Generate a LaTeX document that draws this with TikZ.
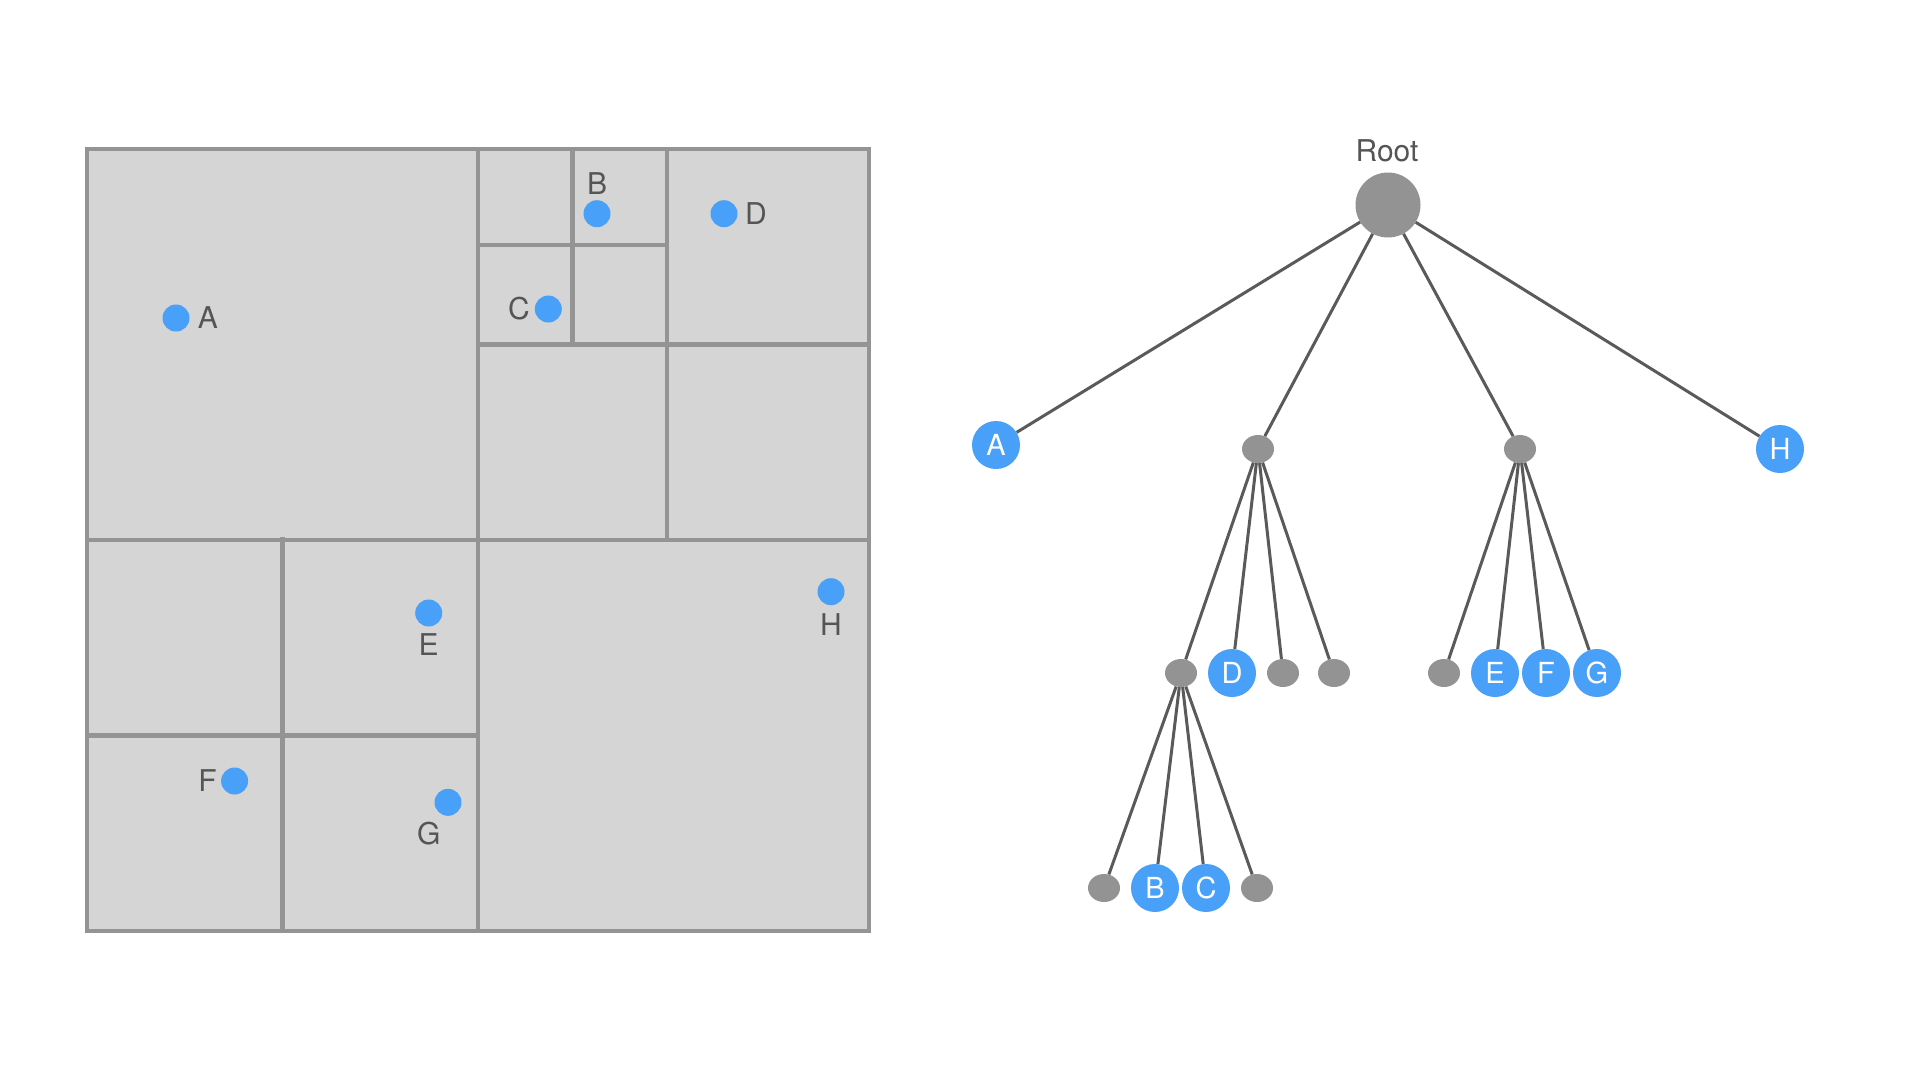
\documentclass[tikz,border=0pt]{standalone}
\usepackage{fontspec}
\setmainfont{TeX Gyre Heros}
\usepackage{tikz}
\usetikzlibrary{shapes.geometric}

\definecolor{cellgray}{HTML}{D5D5D5}
\definecolor{linegray}{HTML}{949494}
\definecolor{nodegray}{HTML}{939393}
\definecolor{dotblue}{HTML}{48A0F8}
\definecolor{textgray}{HTML}{555555}
\definecolor{edgegray}{HTML}{5A5A5A}

\begin{document}
\begin{tikzpicture}[x=1pt, y=-1pt,
		cell_style/.style={draw=linegray,line width=4.5pt},
		point_style/.style={circle,fill=dotblue,minimum size=27pt,inner sep=0pt},
		label_style/.style={text=textgray,inner sep=0pt,font=\fontsize{30}{34}\selectfont},
		node_style/.style={ellipse,fill=nodegray,minimum width=32pt,minimum height=28pt,inner sep=0pt},
		root_style/.style={circle,fill=nodegray,minimum size=65pt,inner sep=0pt},
		leaf_style/.style={circle,fill=dotblue,minimum size=48pt,inner sep=0pt,text=white,font=\fontsize{29}{32}\selectfont},
		edge_style/.style={draw=edgegray,line width=3pt}]
		
		\useasboundingbox (0,0) rectangle (1920,1080);
		
		% quadtree
		\fill[cellgray] (87,149) rectangle (869,931);
		\draw[cell_style] (87,540) -- (869,540);
		\draw[cell_style] (478,149) -- (478,931);
		\draw[cell_style] (667,149) -- (667,540);
		\draw[cell_style] (478,344.7) -- (869,344.7);
		\draw[cell_style] (572.7,149) -- (572.7,347);
		\draw[cell_style] (478,245) -- (667,245);
		\draw[cell_style] (282.5,537) -- (282.5,931);
		\draw[cell_style] (87,735.5) -- (478,735.5);
		\draw[cell_style] (87,149) rectangle (869,931);
		
		\node[point_style] (pA) at (176,318) {};
		\node[point_style] (pB) at (597,213.7) {};
		\node[point_style] (pC) at (548.3,309) {};
		\node[point_style] (pD) at (724,213.7) {};
		\node[point_style] (pE) at (428.7,613) {};
		\node[point_style] (pF) at (234.6,781) {};
		\node[point_style] (pG) at (448,802.3) {};
		\node[point_style] (pH) at (831,591.7) {};
		
		\node[label_style] (lA) at (208,318) {A};
		\node[label_style] (lB) at (597,183.3) {B};
		\node[label_style] (lC) at (519,309) {C};
		\node[label_style] (lD) at (756,214) {D};
		\node[label_style] (lE) at (428.7,645) {E};
		\node[label_style] (lF) at (207.5,781) {F};
		\node[label_style] (lG) at (428.7,834) {G};
		\node[label_style] (lH) at (831,624.3) {H};
		
		% tree
		\node[label_style] (rootlabel) at (1387,151) {Root};
		\node[root_style] (root) at (1388,205) {};
		\node[leaf_style] (tA) at (996,445) {A};
		\node[node_style] (n1) at (1258,449) {};
		\node[node_style] (n2) at (1520,449) {};
		\node[leaf_style] (tH) at (1780,449) {H};
		\node[node_style] (n3) at (1181,673) {};
		\node[leaf_style] (tD) at (1232,673) {D};
		\node[node_style] (n4) at (1283,673) {};
		\node[node_style] (n5) at (1334,673) {};
		\node[node_style] (n6) at (1444,673) {};
		\node[leaf_style] (tE) at (1495,673) {E};
		\node[leaf_style] (tF) at (1546,673) {F};
		\node[leaf_style] (tG) at (1597,673) {G};
		\node[node_style] (n7) at (1104,888) {};
		\node[leaf_style] (tB) at (1155,888) {B};
		\node[leaf_style] (tC) at (1206,888) {C};
		\node[node_style] (n8) at (1257,888) {};
		
		\draw[edge_style]  (root) edge (tA);
		\draw[edge_style]  (root) edge (n1);
		\draw[edge_style]  (root) edge (n2);
		\draw[edge_style]  (root) edge (tH);
		\draw[edge_style]  (n1) edge (n3);
		\draw[edge_style]  (n1) edge (tD);
		\draw[edge_style]  (n1) edge (n4);
		\draw[edge_style]  (n1) edge (n5);
		\draw[edge_style]  (n2) edge (n6);
		\draw[edge_style]  (n2) edge (tE);
		\draw[edge_style]  (n2) edge (tF);
		\draw[edge_style]  (n2) edge (tG);
		\draw[edge_style]  (n3) edge (n7);
		\draw[edge_style]  (n3) edge (tB);
		\draw[edge_style]  (n3) edge (tC);
		\draw[edge_style]  (n3) edge (n8);
		
\end{tikzpicture}
\end{document}
